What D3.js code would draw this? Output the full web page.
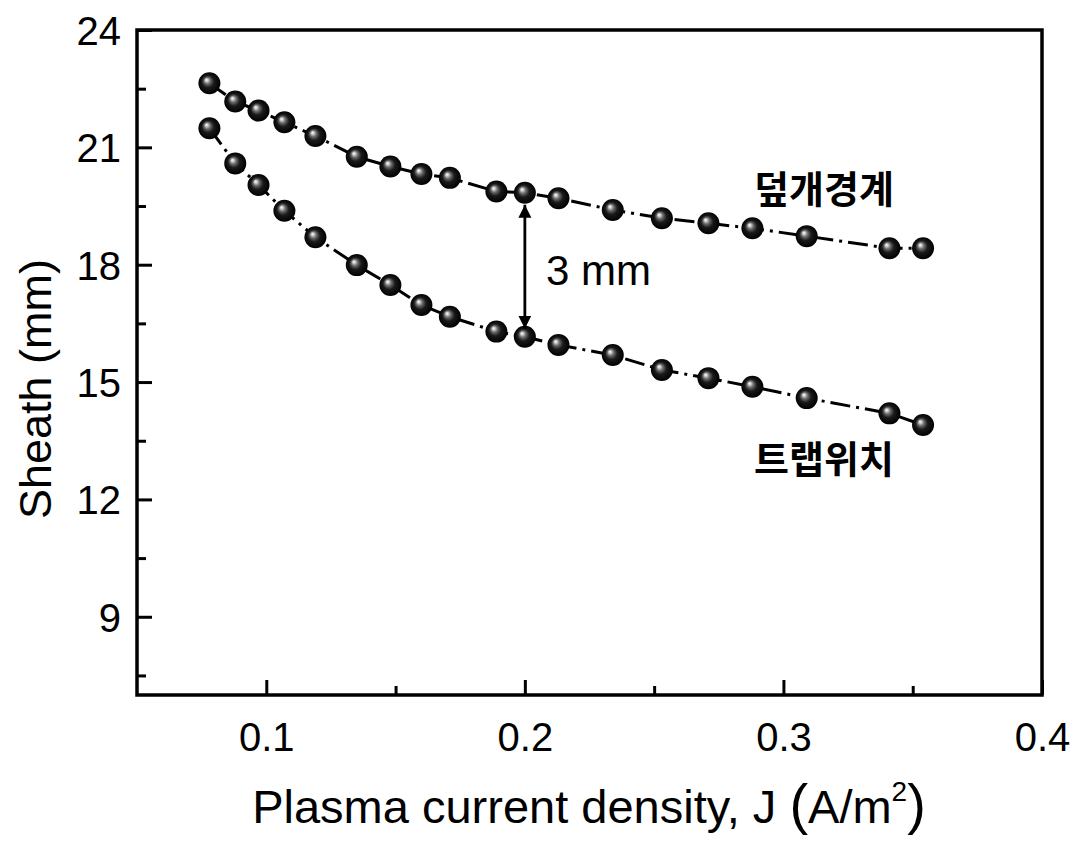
<!doctype html>
<html lang="ko">
  <head>
    <meta charset="utf-8">
    <title>sheath</title>
    <script src="https://d3js.org/d3.v7.min.js"></script>
    <style>
      body { margin: 0; background: #fff; }
      text { font-family: "Liberation Sans", Arial, sans-serif; fill: #000; }
      .kr { font-family: "Noto Sans CJK KR", sans-serif; font-weight: 700; }
    </style>
  </head>
  <body>
    <svg></svg>
    <script>
      // current density J (A/m^2)
      var jValues = [0.078, 0.088, 0.097, 0.107, 0.119, 0.135, 0.148, 0.160, 0.171, 0.189, 0.200,
                     0.213, 0.234, 0.253, 0.271, 0.288, 0.309, 0.341, 0.354];
      // 덮개경계 (sheath edge)
      var coverBoundary = [22.64, 22.17, 21.94, 21.64, 21.29, 20.76, 20.51, 20.32, 20.22, 19.87, 19.84,
                           19.70, 19.40, 19.19, 19.06, 18.93, 18.73, 18.42, 18.42];
      // 트랩위치 (trap position)
      var trapPosition = [21.49, 20.59, 20.04, 19.38, 18.70, 17.99, 17.48, 16.97, 16.67, 16.29, 16.16,
                          15.95, 15.69, 15.31, 15.10, 14.88, 14.59, 14.20, 13.90];
      var xTicks = [0.1, 0.2, 0.3, 0.4];
      var yTicks = [9, 12, 15, 18, 21, 24];

      var W = 1078, H = 841;
      var svg = d3.select("svg").attr("width", W).attr("height", H);

      var x = d3.scaleLinear().domain([0.05, 0.4]).range([137, 1042]);
      var y = d3.scaleLinear().domain([7, 24]).range([695, 30]);

      var defs = svg.append("defs");
      var grad = defs.append("radialGradient").attr("id", "ball")
        .attr("cx", "50%").attr("cy", "50%").attr("r", "50%")
        .attr("fx", "36%").attr("fy", "34%");
      grad.append("stop").attr("offset", "0%").attr("stop-color", "#ffffff");
      grad.append("stop").attr("offset", "12%").attr("stop-color", "#d0d0d0");
      grad.append("stop").attr("offset", "30%").attr("stop-color", "#6a6a6a");
      grad.append("stop").attr("offset", "55%").attr("stop-color", "#1a1a1a");
      grad.append("stop").attr("offset", "100%").attr("stop-color", "#000000");

      defs.append("marker").attr("id", "head")
        .attr("viewBox", "0 0 10 10").attr("refX", 10).attr("refY", 5)
        .attr("markerWidth", 13).attr("markerHeight", 14)
        .attr("markerUnits", "userSpaceOnUse")
        .attr("orient", "auto-start-reverse")
        .append("path").attr("d", "M0,0L10,5L0,10Z").attr("fill", "#000");

      // axes (ticks pointing inward)
      var xMinor = [0.15, 0.25, 0.35];
      var yMinor = [7.5, 10.5, 13.5, 16.5, 19.5, 22.5];

      svg.append("g").attr("transform", "translate(0," + y(7) + ")")
        .call(d3.axisBottom(x).tickValues(xTicks).tickSize(-15).tickPadding(28)
          .tickFormat(d3.format(".1f")));
      svg.append("g").attr("transform", "translate(0," + y(7) + ")")
        .call(d3.axisBottom(x).tickValues(xMinor).tickSize(-9).tickFormat(""));

      var yAxis = svg.append("g").attr("transform", "translate(" + x(0.05) + ",0)")
        .call(d3.axisLeft(y).tickValues(yTicks).tickSize(-15).tickPadding(16));
      svg.append("g").attr("transform", "translate(" + x(0.05) + ",0)")
        .call(d3.axisLeft(y).tickValues(yMinor).tickSize(-9).tickFormat(""));

      svg.selectAll(".domain").remove();
      svg.selectAll(".tick line").attr("stroke", "#000").attr("stroke-width", 3);
      svg.selectAll(".tick text").style("font-size", "40px").attr("fill", "#000");
      yAxis.selectAll(".tick text").attr("dy", "0.36em");

      // frame
      svg.append("rect")
        .attr("x", x(0.05)).attr("y", y(24))
        .attr("width", x(0.4) - x(0.05)).attr("height", y(7) - y(24))
        .attr("fill", "none").attr("stroke", "#000").attr("stroke-width", 3.5);

      var seriesList = [coverBoundary, trapPosition];
      var line = d3.line()
        .x(function(d, i) { return x(jValues[i]); })
        .y(function(d) { return y(d); });

      seriesList.forEach(function(s) {
        svg.append("path").datum(s)
          .attr("d", line)
          .attr("fill", "none")
          .attr("stroke", "#000")
          .attr("stroke-width", 3)
          .attr("stroke-dasharray", "20,6,3,6");
      });

      seriesList.forEach(function(s) {
        svg.append("g").selectAll("circle").data(s).enter()
          .append("circle")
          .attr("cx", function(d, i) { return x(jValues[i]); })
          .attr("cy", function(d) { return y(d); })
          .attr("r", 11)
          .attr("fill", "url(#ball)");
      });

      // 3 mm double arrow between the two series at J = 0.2
      var iArrow = 10;
      svg.append("line")
        .attr("x1", x(jValues[iArrow])).attr("x2", x(jValues[iArrow]))
        .attr("y1", y(coverBoundary[iArrow]) + 12)
        .attr("y2", y(trapPosition[iArrow]) - 8)
        .attr("stroke", "#000").attr("stroke-width", 2.8)
        .attr("marker-start", "url(#head)")
        .attr("marker-end", "url(#head)");

      svg.append("text").attr("x", 546).attr("y", 285)
        .style("font-size", "42px").text("3 mm");

      svg.append("text").attr("class", "kr").attr("x", 754).attr("y", 203)
        .style("font-size", "38px").text("덮개경계");
      svg.append("text").attr("class", "kr").attr("x", 754).attr("y", 473)
        .style("font-size", "38px").text("트랩위치");

      // axis titles
      var xt = svg.append("text").attr("x", 589).attr("y", 823)
        .attr("text-anchor", "middle").style("font-size", "47px");
      xt.append("tspan").text("Plasma current density, J ");
      xt.append("tspan").style("font-size", "56px").text("(");
      xt.append("tspan").text("A/m");
      xt.append("tspan").attr("dy", -22).style("font-size", "28px").text("2");
      xt.append("tspan").attr("dy", 22).style("font-size", "56px").text(")");

      svg.append("text")
        .attr("transform", "translate(51,389) rotate(-90)")
        .attr("text-anchor", "middle").style("font-size", "45px")
        .text("Sheath (mm)");
    </script>
  </body>
</html>
